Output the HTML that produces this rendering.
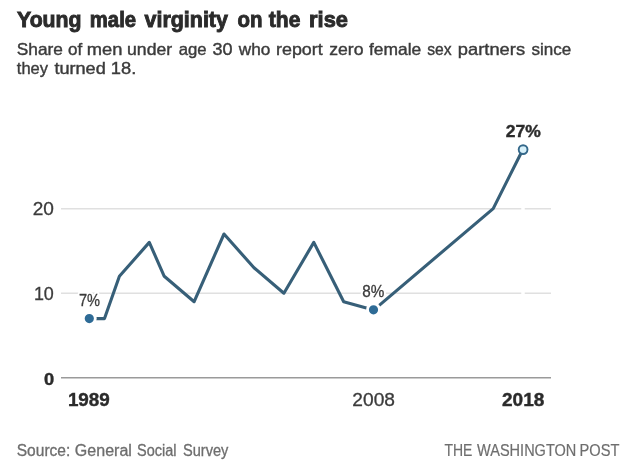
<!DOCTYPE html>
<html>
<head>
<meta charset="utf-8">
<title>Young male virginity on the rise</title>
<style>
  html, body { margin: 0; padding: 0; background: #ffffff; }
  body { width: 640px; height: 463px; overflow: hidden; font-family: "Liberation Sans", sans-serif; }
  svg { display: block; will-change: transform; opacity: 0.999; filter: blur(0.45px); }
  text { font-family: "Liberation Sans", sans-serif; }
</style>
</head>
<body>
<svg width="640" height="463" viewBox="0 0 640 463">
  <rect x="0" y="0" width="640" height="463" fill="#ffffff"/>
  <!-- gridlines -->
  <line x1="61" y1="208.75" x2="551" y2="208.75" stroke="#e0e0e0" stroke-width="1.5"/>
  <line x1="61" y1="293.2" x2="551" y2="293.2" stroke="#e0e0e0" stroke-width="1.5"/>
  <line x1="61" y1="377.75" x2="551" y2="377.75" stroke="#9a9a9a" stroke-width="1.3"/>
  <!-- white guide under 2018 -->
  <line x1="523" y1="150" x2="523" y2="370" stroke="#ffffff" stroke-width="3.5"/>
  <!-- data line -->
  <polyline fill="none" stroke="#375f78" stroke-width="3.1" stroke-linejoin="round" stroke-linecap="butt"
    points="89.5,318.6 104.5,318.6 119.4,276.3 149.3,242.4 164.25,276.3 194.15,301.7 224,234 254,267.8 283.9,293.2 313.8,242.4 343.7,301.7 373.6,310.1 493.2,208.6 523,149.3"/>

  <!-- title -->
  <text x="17.05" y="26.70" font-size="21.5" font-weight="bold" textLength="64.52" lengthAdjust="spacingAndGlyphs" fill="#2b2b2b" stroke="#2b2b2b" stroke-width="0.9">Young</text>
  <text x="89.81" y="26.70" font-size="21.5" font-weight="bold" textLength="46.30" lengthAdjust="spacingAndGlyphs" fill="#2b2b2b" stroke="#2b2b2b" stroke-width="0.9">male</text>
  <text x="144.55" y="26.70" font-size="21.5" font-weight="bold" textLength="83.36" lengthAdjust="spacingAndGlyphs" fill="#2b2b2b" stroke="#2b2b2b" stroke-width="0.9">virginity</text>
  <text x="237.55" y="26.70" font-size="21.5" font-weight="bold" textLength="24.98" lengthAdjust="spacingAndGlyphs" fill="#2b2b2b" stroke="#2b2b2b" stroke-width="0.9">on</text>
  <text x="268.85" y="26.70" font-size="21.5" font-weight="bold" textLength="31.56" lengthAdjust="spacingAndGlyphs" fill="#2b2b2b" stroke="#2b2b2b" stroke-width="0.9">the</text>
  <text x="309.13" y="26.70" font-size="21.5" font-weight="bold" textLength="38.87" lengthAdjust="spacingAndGlyphs" fill="#2b2b2b" stroke="#2b2b2b" stroke-width="0.9">rise</text>
  <!-- sub1 -->
  <text x="16.80" y="54.80" font-size="16.5" textLength="46.08" lengthAdjust="spacingAndGlyphs" fill="#3b3b3b" stroke="#3b3b3b" stroke-width="0.4">Share</text>
  <text x="67.95" y="54.80" font-size="16.5" textLength="14.17" lengthAdjust="spacingAndGlyphs" fill="#3b3b3b" stroke="#3b3b3b" stroke-width="0.4">of</text>
  <text x="86.89" y="54.80" font-size="16.5" textLength="35.61" lengthAdjust="spacingAndGlyphs" fill="#3b3b3b" stroke="#3b3b3b" stroke-width="0.4">men</text>
  <text x="127.03" y="54.80" font-size="16.5" textLength="45.13" lengthAdjust="spacingAndGlyphs" fill="#3b3b3b" stroke="#3b3b3b" stroke-width="0.4">under</text>
  <text x="178.70" y="54.80" font-size="16.5" textLength="27.88" lengthAdjust="spacingAndGlyphs" fill="#3b3b3b" stroke="#3b3b3b" stroke-width="0.4">age</text>
  <text x="212.45" y="54.80" font-size="16.5" textLength="20.04" lengthAdjust="spacingAndGlyphs" fill="#3b3b3b" stroke="#3b3b3b" stroke-width="0.4">30</text>
  <text x="238.74" y="54.80" font-size="16.5" textLength="31.54" lengthAdjust="spacingAndGlyphs" fill="#3b3b3b" stroke="#3b3b3b" stroke-width="0.4">who</text>
  <text x="276.02" y="54.80" font-size="16.5" textLength="46.73" lengthAdjust="spacingAndGlyphs" fill="#3b3b3b" stroke="#3b3b3b" stroke-width="0.4">report</text>
  <text x="329.20" y="54.80" font-size="16.5" textLength="34.29" lengthAdjust="spacingAndGlyphs" fill="#3b3b3b" stroke="#3b3b3b" stroke-width="0.4">zero</text>
  <text x="368.95" y="54.80" font-size="16.5" textLength="52.29" lengthAdjust="spacingAndGlyphs" fill="#3b3b3b" stroke="#3b3b3b" stroke-width="0.4">female</text>
  <text x="427.20" y="54.80" font-size="16.5" textLength="24.39" lengthAdjust="spacingAndGlyphs" fill="#3b3b3b" stroke="#3b3b3b" stroke-width="0.4">sex</text>
  <text x="457.84" y="54.80" font-size="16.5" textLength="67.24" lengthAdjust="spacingAndGlyphs" fill="#3b3b3b" stroke="#3b3b3b" stroke-width="0.4">partners</text>
  <text x="531.45" y="54.80" font-size="16.5" textLength="39.78" lengthAdjust="spacingAndGlyphs" fill="#3b3b3b" stroke="#3b3b3b" stroke-width="0.4">since</text>
  <!-- sub2 -->
  <text x="16.80" y="74.40" font-size="16.5" textLength="31.15" lengthAdjust="spacingAndGlyphs" fill="#3b3b3b" stroke="#3b3b3b" stroke-width="0.4">they</text>
  <text x="54.40" y="74.40" font-size="16.5" textLength="51.39" lengthAdjust="spacingAndGlyphs" fill="#3b3b3b" stroke="#3b3b3b" stroke-width="0.4">turned</text>
  <text x="110.79" y="74.40" font-size="16.5" textLength="25.46" lengthAdjust="spacingAndGlyphs" fill="#3b3b3b" stroke="#3b3b3b" stroke-width="0.4">18.</text>
  <!-- src -->
  <text x="16.75" y="455.50" font-size="15.6" textLength="53.53" lengthAdjust="spacingAndGlyphs" fill="#6e6e6e" stroke="#6e6e6e" stroke-width="0.3">Source:</text>
  <text x="74.85" y="455.50" font-size="15.6" textLength="57.08" lengthAdjust="spacingAndGlyphs" fill="#6e6e6e" stroke="#6e6e6e" stroke-width="0.3">General</text>
  <text x="137.05" y="455.50" font-size="15.6" textLength="39.48" lengthAdjust="spacingAndGlyphs" fill="#6e6e6e" stroke="#6e6e6e" stroke-width="0.3">Social</text>
  <text x="182.95" y="455.50" font-size="15.6" textLength="45.46" lengthAdjust="spacingAndGlyphs" fill="#6e6e6e" stroke="#6e6e6e" stroke-width="0.3">Survey</text>
  <!-- wapo -->
  <text x="444.40" y="455.50" font-size="16.5" textLength="27.90" lengthAdjust="spacingAndGlyphs" fill="#6e6e6e" stroke="#6e6e6e" stroke-width="0.2">THE</text>
  <text x="477.10" y="455.50" font-size="16.5" textLength="99.21" lengthAdjust="spacingAndGlyphs" fill="#6e6e6e" stroke="#6e6e6e" stroke-width="0.2">WASHINGTON</text>
  <text x="579.51" y="455.50" font-size="16.5" textLength="39.86" lengthAdjust="spacingAndGlyphs" fill="#6e6e6e" stroke="#6e6e6e" stroke-width="0.2">POST</text>
  <!-- y20 -->
  <text x="32.65" y="215.40" font-size="18" textLength="21.21" lengthAdjust="spacingAndGlyphs" fill="#3b3b3b" stroke="#3b3b3b" stroke-width="0.3">20</text>
  <!-- y10 -->
  <text x="33.90" y="299.80" font-size="18" textLength="19.96" lengthAdjust="spacingAndGlyphs" fill="#3b3b3b" stroke="#3b3b3b" stroke-width="0.3">10</text>
  <!-- y0 -->
  <text x="44.10" y="384.60" font-size="17" font-weight="bold" textLength="10.19" lengthAdjust="spacingAndGlyphs" fill="#2b2b2b" stroke="#2b2b2b" stroke-width="0.4">0</text>
  <!-- l7 -->
  <text x="78.90" y="305.70" font-size="16.5" textLength="21.16" lengthAdjust="spacingAndGlyphs" fill="#ffffff" stroke="#ffffff" stroke-width="4.5" stroke-linejoin="round">7%</text>
  <text x="78.90" y="305.70" font-size="16.5" textLength="21.16" lengthAdjust="spacingAndGlyphs" fill="#3b3b3b" stroke="#3b3b3b" stroke-width="0.3">7%</text>
  <!-- l8 -->
  <text x="362.15" y="297.20" font-size="16.5" textLength="22.10" lengthAdjust="spacingAndGlyphs" fill="#ffffff" stroke="#ffffff" stroke-width="4.5" stroke-linejoin="round">8%</text>
  <text x="362.15" y="297.20" font-size="16.5" textLength="22.10" lengthAdjust="spacingAndGlyphs" fill="#3b3b3b" stroke="#3b3b3b" stroke-width="0.3">8%</text>
  <!-- l27 -->
  <text x="505.70" y="136.80" font-size="16.5" font-weight="bold" textLength="35.00" lengthAdjust="spacingAndGlyphs" fill="#2b2b2b" stroke="#2b2b2b" stroke-width="0.4">27%</text>
  <!-- x1989 -->
  <text x="67.90" y="405.70" font-size="18" font-weight="bold" textLength="41.91" lengthAdjust="spacingAndGlyphs" fill="#2b2b2b" stroke="#2b2b2b" stroke-width="0.4">1989</text>
  <!-- x2008 -->
  <text x="352.35" y="405.70" font-size="18" textLength="42.61" lengthAdjust="spacingAndGlyphs" fill="#3b3b3b" stroke="#3b3b3b" stroke-width="0.3">2008</text>
  <!-- x2018 -->
  <text x="502.00" y="405.70" font-size="18" font-weight="bold" textLength="42.31" lengthAdjust="spacingAndGlyphs" fill="#2b2b2b" stroke="#2b2b2b" stroke-width="0.4">2018</text>

  <!-- markers -->
  <circle cx="89.3" cy="318.6" r="6" fill="#2e6b96" stroke="#ffffff" stroke-width="2.8"/>
  <circle cx="373.5" cy="309.8" r="6" fill="#2e6b96" stroke="#ffffff" stroke-width="2.8"/>
  <circle cx="523.1" cy="149.6" r="4.4" fill="#d8f1fa" stroke="#34688a" stroke-width="1.9"/>

</svg>
</body>
</html>
